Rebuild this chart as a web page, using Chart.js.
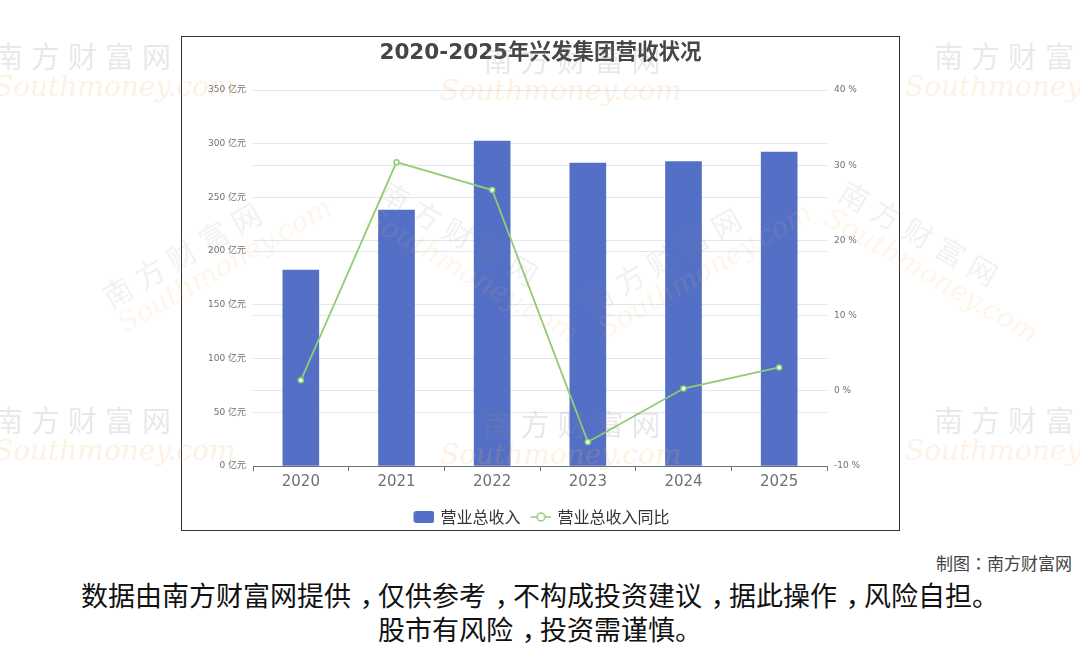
<!DOCTYPE html>
<html>
<head>
<meta charset="utf-8">
<script src="https://cdn.jsdelivr.net/npm/chart.js@4/dist/chart.umd.min.js"></script>
<style>
  html, body { margin: 0; padding: 0; background: #fff; }
  body { width: 1080px; height: 646px; position: relative; overflow: hidden;
         font-family: "DejaVu Sans", "Noto Sans CJK SC", sans-serif; }
  #box { position: absolute; left: 181px; top: 36px; width: 719px; height: 495px;
         box-sizing: border-box; border: 1px solid #333; background: #fff; }
  #box canvas { display: block; }
  .credit { position: absolute; right: 8px; top: 550px; font-size: 17px; color: #444;
            font-family: "Noto Sans CJK TC", sans-serif; }
  .note { position: absolute; left: 0; width: 1080px; top: 578px; text-align: center;
          font-size: 27px; line-height: 34px; color: #111;
          font-family: "Noto Sans CJK SC", sans-serif; }
  .note .c { position: relative; left: 0.32em; }
  .wm { position: absolute; pointer-events: none; white-space: nowrap; }
  .wm .cn { font-family: "Noto Sans CJK SC", sans-serif; font-size: 29px; color: rgba(140,140,140,0.2);
            letter-spacing: 8px; }
  .wm .en { font-family: "DejaVu Serif", serif; font-style: italic; font-size: 28px;
            color: rgba(245,175,90,0.18); display: block; margin-top: -6px; }
  .wm.soft .cn { color: rgba(140,140,140,0.12); }
  .wm.soft .en { color: rgba(245,175,90,0.12); }
</style>
</head>
<body>
<div id="box"><canvas id="chart" width="717" height="493"></canvas></div>

<div class="wm" style="left:-6px;top:34px"><span class="cn">南方财富网</span><span class="en">Southmoney.com</span></div>
<div class="wm" style="left:440px;top:38px"><span class="cn">&nbsp;&nbsp;&nbsp;南方财富网</span><span class="en">Southmoney.com</span></div>
<div class="wm" style="left:905px;top:34px"><span class="cn">&nbsp;&nbsp;南方财富网</span><span class="en">Southmoney.com</span></div>
<div class="wm" style="left:-6px;top:398px"><span class="cn">南方财富网</span><span class="en">Southmoney.com</span></div>
<div class="wm" style="left:440px;top:402px"><span class="cn">&nbsp;&nbsp;&nbsp;南方财富网</span><span class="en">Southmoney.com</span></div>
<div class="wm" style="left:905px;top:398px"><span class="cn">&nbsp;&nbsp;南方财富网</span><span class="en">Southmoney.com</span></div>
<div class="wm soft" style="left:95px;top:215px;transform:rotate(-30deg)"><span class="cn">南方财富网</span><span class="en">Southmoney.com</span></div>
<div class="wm soft" style="left:575px;top:220px;transform:rotate(-30deg)"><span class="cn">南方财富网</span><span class="en">Southmoney.com</span></div>
<div class="wm soft" style="left:820px;top:225px;transform:rotate(30deg)"><span class="cn">南方财富网</span><span class="en">Southmoney.com</span></div>
<div class="wm soft" style="left:360px;top:225px;transform:rotate(30deg)"><span class="cn">南方财富网</span><span class="en">Southmoney.com</span></div>

<div class="credit">制图：南方财富网</div>
<div class="note">数据由南方财富网提供<span class="c">，</span>仅供参考<span class="c">，</span>不构成投资建议<span class="c">，</span>据此操作<span class="c">，</span>风险自担。<br>股市有风险<span class="c">，</span>投资需谨慎。</div>

<script>
const years = ["2020", "2021", "2022", "2023", "2024", "2025"];
const revenue = [182.4, 238.3, 302.5, 282.0, 283.3, 292.3];   // 亿元
const revenueYoY = [1.4, 30.4, 26.7, -6.8, 0.3, 3.1];          // %
const revenueName = "营业总收入";
const yoyName = "营业总收入同比";
const titleText = "2020-2025年兴发集团营收状况";

const BLUE = "#5470c6", GREEN = "#91cc75", AXIS = "#6e7079", GRID = "#e0e6f1";

Chart.defaults.font.family = "'DejaVu Sans', 'Noto Sans CJK SC', sans-serif";

// legend icons as small canvases; content sits 2px right of the box centre
function legend_icon(kind) {
    const c = document.createElement("canvas");
    c.width = 25; c.height = 14;
    const g = c.getContext("2d");
    if (kind === "bar") {
        g.fillStyle = BLUE;
        g.beginPath();
        g.roundRect(4, 1, 21, 12, 3);
        g.fill();
    } else {
        g.strokeStyle = GREEN;
        g.lineWidth = 1.5;
        g.beginPath();
        g.moveTo(4, 7); g.lineTo(25, 7);
        g.stroke();
        g.fillStyle = "#fff";
        g.beginPath();
        g.arc(14.5, 7, 4, 0, Math.PI * 2);
        g.fill(); g.stroke();
    }
    return c;
}
const icons = [legend_icon("bar"), legend_icon("line")];

const ctx = document.querySelector("#chart");
new Chart(ctx, {
    data: {
        labels: years,
        datasets: [{
            type: "bar",
            label: revenueName,
            data: revenue,
            yAxisID: "y",
            backgroundColor: BLUE,
            barThickness: 36,
            order: 1
        }, {
            type: "line",
            label: yoyName,
            data: revenueYoY,
            yAxisID: "y1",
            borderColor: GREEN,
            borderWidth: 1.8,
            pointRadius: 2.5,
            pointBorderWidth: 1.5,
            pointBackgroundColor: "#fff",
            pointBorderColor: GREEN,
            order: 0
        }]
    },
    options: {
        responsive: false,
        animation: false,
        layout: {padding: {left: 0, right: 0, top: 0, bottom: -5}},
        plugins: {
            title: {
                display: true,
                text: titleText,
                color: "#464646",
                font: {size: 21.5, weight: "bold"},
                padding: {top: 4, bottom: 23.2}
            },
            legend: {
                position: "bottom",
                labels: {
                    usePointStyle: true,
                    pointStyleWidth: 21,
                    color: "#333",
                    padding: 8,
                    font: {size: 16, family: "'Noto Sans CJK SC', sans-serif"},
                    sort: (a, b) => a.datasetIndex - b.datasetIndex,
                    generateLabels: chart =>
                        Chart.defaults.plugins.legend.labels.generateLabels(chart)
                            .map(l => ({...l, pointStyle: icons[l.datasetIndex]}))
                }
            },
            tooltip: {enabled: false}
        },
        scales: {
            x: {
                grid: {display: true, drawOnChartArea: false, drawTicks: true, tickLength: 5, color: AXIS},
                border: {display: true, color: AXIS},
                ticks: {color: AXIS, font: {size: 15}, padding: 2},
                afterFit: s => { s.height = 35; }
            },
            y: {
                position: "left",
                min: 0, max: 350,
                ticks: {stepSize: 50, color: AXIS, font: {size: 9}, padding: 7,
                        callback: v => v + " 亿元"},
                grid: {color: GRID, drawTicks: false},
                border: {display: false},
                afterFit: s => { s.width = 71; }
            },
            y1: {
                position: "right",
                min: -10, max: 40,
                ticks: {stepSize: 10, color: AXIS, font: {size: 9}, padding: 7,
                        callback: v => v + " %"},
                grid: {color: GRID, drawTicks: false},
                border: {display: false},
                afterFit: s => { s.width = 72; }
            }
        }
    }
});
</script>
</body>
</html>
